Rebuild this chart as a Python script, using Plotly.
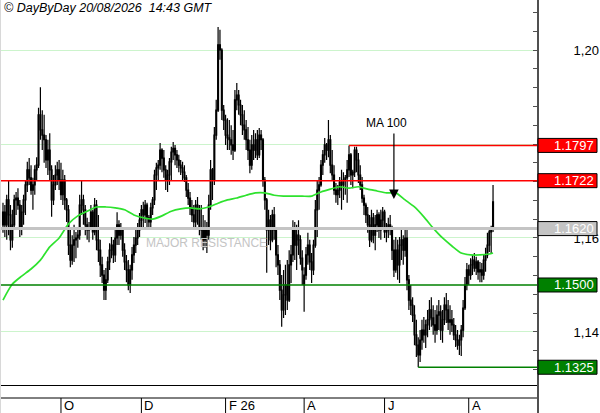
import pandas as pd
import plotly.graph_objects as go

# ---------------- data (daily candles) ----------------
opens = [
1.1628,1.1655,1.1628,1.1681,1.1649,1.1596,1.1628,1.1681,1.1685,1.1670,
1.1621,1.1655,1.1681,1.1713,1.1745,1.1728,1.1702,1.1713,1.1745,1.1755,
1.1862,1.1830,1.1819,1.1809,1.1766,1.1787,1.1745,1.1681,1.1713,1.1734,
1.1745,1.1723,1.1692,1.1723,1.1681,1.1660,1.1585,1.1553,1.1585,1.1596,
1.1600,1.1606,1.1670,1.1681,1.1660,1.1628,1.1617,1.1621,1.1655,1.1613,
1.1670,1.1596,1.1574,1.1543,1.1521,1.1489,1.1511,1.1549,1.1574,1.1585,
1.1564,1.1600,1.1628,1.1606,1.1617,1.1574,1.1549,1.1532,1.1500,1.1532,
1.1564,1.1585,1.1600,1.1617,1.1638,1.1660,1.1649,1.1670,1.1643,1.1634,
1.1664,1.1681,1.1734,1.1749,1.1755,1.1787,1.1770,1.1745,1.1723,1.1734,
1.1762,1.1783,1.1791,1.1777,1.1766,1.1755,1.1749,1.1740,1.1728,1.1702,
1.1685,1.1664,1.1649,1.1634,1.1670,1.1660,1.1621,1.1617,1.1596,1.1621,
1.1606,1.1670,1.1745,1.1723,1.1819,1.1872,1.2011,1.2000,1.1872,1.1851,
1.1819,1.1813,1.1809,1.1798,1.1787,1.1894,1.1904,1.1883,1.1862,1.1840,
1.1830,1.1809,1.1787,1.1755,1.1798,1.1787,1.1809,1.1777,1.1819,1.1809,
1.1723,1.1681,1.1617,1.1638,1.1596,1.1649,1.1617,1.1564,1.1543,1.1489,
1.1447,1.1479,1.1500,1.1468,1.1543,1.1564,1.1617,1.1585,1.1606,1.1596,
1.1557,1.1500,1.1521,1.1564,1.1585,1.1549,1.1532,1.1585,1.1660,1.1702,
1.1713,1.1755,1.1777,1.1798,1.1787,1.1809,1.1755,1.1734,1.1702,1.1692,
1.1702,1.1719,1.1713,1.1723,1.1728,1.1745,1.1777,1.1734,1.1740,1.1787,
1.1766,1.1734,1.1713,1.1685,1.1670,1.1649,1.1628,1.1596,1.1643,1.1606,
1.1628,1.1649,1.1617,1.1638,1.1655,1.1613,1.1617,1.1628,1.1621,1.1574,
1.1532,1.1574,1.1543,1.1585,1.1596,1.1574,1.1600,1.1511,1.1468,1.1457,
1.1436,1.1394,1.1372,1.1351,1.1383,1.1404,1.1394,1.1415,1.1426,1.1447,
1.1430,1.1415,1.1404,1.1436,1.1443,1.1404,1.1426,1.1457,1.1447,1.1421,
1.1426,1.1415,1.1394,1.1383,1.1372,1.1383,1.1404,1.1451,1.1500,1.1532,
1.1521,1.1543,1.1553,1.1536,1.1549,1.1528,1.1532,1.1521,1.1553,1.1564,
1.1585,1.1613,1.1621]

highs = [
1.1675,1.1670,1.1692,1.1723,1.1670,1.1660,1.1692,1.1698,1.1706,1.1681,
1.1670,1.1692,1.1723,1.1762,1.1770,1.1755,1.1728,1.1755,1.1772,1.1877,
1.1921,1.1872,1.1862,1.1819,1.1809,1.1823,1.1755,1.1734,1.1755,1.1762,
1.1766,1.1760,1.1745,1.1734,1.1685,1.1670,1.1617,1.1606,1.1628,1.1613,
1.1621,1.1692,1.1723,1.1692,1.1670,1.1643,1.1634,1.1670,1.1660,1.1685,
1.1681,1.1649,1.1596,1.1560,1.1532,1.1536,1.1560,1.1589,1.1602,1.1596,
1.1617,1.1655,1.1638,1.1632,1.1621,1.1589,1.1564,1.1553,1.1543,1.1581,
1.1602,1.1617,1.1632,1.1653,1.1670,1.1677,1.1681,1.1675,1.1649,1.1675,
1.1687,1.1745,1.1760,1.1766,1.1802,1.1791,1.1787,1.1755,1.1745,1.1770,
1.1794,1.1804,1.1798,1.1787,1.1777,1.1766,1.1762,1.1755,1.1734,1.1717,
1.1698,1.1681,1.1670,1.1681,1.1687,1.1670,1.1670,1.1649,1.1638,1.1634,
1.1692,1.1766,1.1749,1.1836,1.1894,1.2049,1.2043,1.2004,1.1883,1.1862,
1.1855,1.1851,1.1840,1.1830,1.1915,1.1930,1.1915,1.1894,1.1883,1.1872,
1.1851,1.1836,1.1809,1.1819,1.1830,1.1823,1.1830,1.1834,1.1830,1.1813,
1.1730,1.1685,1.1660,1.1649,1.1660,1.1666,1.1621,1.1585,1.1553,1.1521,
1.1532,1.1543,1.1553,1.1574,1.1585,1.1638,1.1634,1.1628,1.1638,1.1606,
1.1574,1.1538,1.1581,1.1611,1.1596,1.1568,1.1596,1.1681,1.1723,1.1730,
1.1766,1.1787,1.1813,1.1802,1.1851,1.1819,1.1787,1.1755,1.1717,1.1713,
1.1730,1.1745,1.1740,1.1734,1.1766,1.1797,1.1781,1.1745,1.1794,1.1794,
1.1781,1.1755,1.1730,1.1692,1.1675,1.1666,1.1649,1.1660,1.1653,1.1649,
1.1660,1.1655,1.1660,1.1666,1.1660,1.1632,1.1643,1.1649,1.1626,1.1596,
1.1602,1.1596,1.1602,1.1617,1.1606,1.1617,1.1617,1.1521,1.1500,1.1474,
1.1457,1.1426,1.1389,1.1404,1.1426,1.1432,1.1426,1.1447,1.1468,1.1474,
1.1457,1.1447,1.1457,1.1468,1.1457,1.1447,1.1474,1.1483,1.1468,1.1457,
1.1447,1.1430,1.1415,1.1404,1.1394,1.1415,1.1468,1.1517,1.1547,1.1543,
1.1557,1.1564,1.1568,1.1560,1.1553,1.1549,1.1547,1.1564,1.1579,1.1611,
1.1623,1.1626,1.1713]

lows = [
1.1611,1.1602,1.1596,1.1606,1.1574,1.1579,1.1617,1.1649,1.1660,1.1602,
1.1606,1.1628,1.1649,1.1698,1.1713,1.1692,1.1660,1.1692,1.1723,1.1749,
1.1809,1.1787,1.1760,1.1749,1.1734,1.1723,1.1645,1.1670,1.1702,1.1713,
1.1702,1.1681,1.1670,1.1660,1.1634,1.1564,1.1538,1.1543,1.1549,1.1557,
1.1579,1.1596,1.1649,1.1628,1.1606,1.1596,1.1591,1.1617,1.1596,1.1606,
1.1574,1.1549,1.1517,1.1504,1.1468,1.1468,1.1504,1.1532,1.1557,1.1547,
1.1549,1.1585,1.1585,1.1596,1.1560,1.1532,1.1506,1.1489,1.1483,1.1511,
1.1547,1.1568,1.1585,1.1602,1.1617,1.1623,1.1632,1.1623,1.1617,1.1621,
1.1649,1.1670,1.1702,1.1723,1.1745,1.1740,1.1728,1.1702,1.1698,1.1713,
1.1723,1.1766,1.1755,1.1749,1.1740,1.1734,1.1723,1.1719,1.1687,1.1670,
1.1649,1.1634,1.1617,1.1617,1.1628,1.1606,1.1596,1.1574,1.1579,1.1568,
1.1596,1.1660,1.1681,1.1713,1.1809,1.1868,1.1979,1.1851,1.1830,1.1798,
1.1787,1.1787,1.1777,1.1766,1.1783,1.1872,1.1862,1.1840,1.1819,1.1809,
1.1787,1.1766,1.1738,1.1745,1.1766,1.1770,1.1766,1.1770,1.1787,1.1709,
1.1660,1.1526,1.1585,1.1574,1.1591,1.1596,1.1538,1.1521,1.1468,1.1411,
1.1430,1.1436,1.1447,1.1464,1.1504,1.1549,1.1553,1.1532,1.1564,1.1543,
1.1500,1.1443,1.1511,1.1543,1.1532,1.1504,1.1521,1.1579,1.1602,1.1660,
1.1709,1.1734,1.1760,1.1766,1.1772,1.1738,1.1723,1.1692,1.1675,1.1670,
1.1685,1.1660,1.1681,1.1692,1.1675,1.1730,1.1713,1.1706,1.1730,1.1740,
1.1717,1.1702,1.1675,1.1649,1.1632,1.1611,1.1581,1.1591,1.1589,1.1574,
1.1613,1.1600,1.1596,1.1617,1.1600,1.1591,1.1600,1.1606,1.1553,1.1517,
1.1526,1.1511,1.1504,1.1553,1.1543,1.1560,1.1489,1.1447,1.1436,1.1421,
1.1372,1.1347,1.1325,1.1336,1.1362,1.1377,1.1366,1.1389,1.1404,1.1411,
1.1394,1.1377,1.1394,1.1404,1.1383,1.1377,1.1415,1.1419,1.1404,1.1394,
1.1400,1.1383,1.1368,1.1362,1.1351,1.1349,1.1389,1.1447,1.1489,1.1500,
1.1511,1.1521,1.1528,1.1521,1.1511,1.1506,1.1506,1.1511,1.1528,1.1557,
1.1570,1.1568,1.1613]

closes = [
1.1655,1.1628,1.1681,1.1649,1.1596,1.1628,1.1681,1.1685,1.1670,1.1621,
1.1655,1.1681,1.1713,1.1745,1.1728,1.1702,1.1713,1.1745,1.1755,1.1862,
1.1830,1.1819,1.1809,1.1766,1.1787,1.1745,1.1681,1.1713,1.1734,1.1745,
1.1723,1.1692,1.1723,1.1681,1.1660,1.1585,1.1553,1.1585,1.1596,1.1600,
1.1606,1.1670,1.1681,1.1660,1.1628,1.1617,1.1621,1.1655,1.1613,1.1670,
1.1596,1.1574,1.1543,1.1521,1.1489,1.1511,1.1549,1.1574,1.1585,1.1564,
1.1600,1.1628,1.1606,1.1617,1.1574,1.1549,1.1532,1.1500,1.1532,1.1564,
1.1585,1.1600,1.1617,1.1638,1.1660,1.1649,1.1670,1.1643,1.1634,1.1664,
1.1681,1.1734,1.1749,1.1755,1.1787,1.1770,1.1745,1.1723,1.1734,1.1762,
1.1783,1.1791,1.1777,1.1766,1.1755,1.1749,1.1740,1.1728,1.1702,1.1685,
1.1664,1.1649,1.1634,1.1670,1.1660,1.1621,1.1617,1.1596,1.1621,1.1606,
1.1670,1.1745,1.1723,1.1819,1.1872,1.2011,1.2000,1.1872,1.1851,1.1819,
1.1813,1.1809,1.1798,1.1787,1.1894,1.1904,1.1883,1.1862,1.1840,1.1830,
1.1809,1.1787,1.1755,1.1798,1.1787,1.1809,1.1777,1.1819,1.1809,1.1723,
1.1681,1.1617,1.1638,1.1596,1.1649,1.1617,1.1564,1.1543,1.1489,1.1447,
1.1479,1.1500,1.1468,1.1543,1.1564,1.1617,1.1585,1.1606,1.1596,1.1557,
1.1532,1.1521,1.1564,1.1585,1.1549,1.1532,1.1585,1.1660,1.1702,1.1713,
1.1755,1.1777,1.1798,1.1787,1.1809,1.1755,1.1734,1.1702,1.1692,1.1702,
1.1719,1.1713,1.1723,1.1728,1.1745,1.1777,1.1734,1.1740,1.1787,1.1766,
1.1734,1.1713,1.1685,1.1670,1.1649,1.1628,1.1596,1.1643,1.1606,1.1628,
1.1649,1.1617,1.1638,1.1655,1.1613,1.1617,1.1628,1.1621,1.1574,1.1532,
1.1574,1.1543,1.1585,1.1596,1.1574,1.1600,1.1511,1.1468,1.1457,1.1436,
1.1394,1.1372,1.1351,1.1383,1.1404,1.1394,1.1415,1.1426,1.1447,1.1430,
1.1415,1.1404,1.1436,1.1443,1.1404,1.1426,1.1457,1.1447,1.1421,1.1426,
1.1415,1.1394,1.1383,1.1372,1.1383,1.1404,1.1451,1.1500,1.1532,1.1521,
1.1543,1.1553,1.1536,1.1549,1.1528,1.1532,1.1521,1.1553,1.1564,1.1585,
1.1613,1.1621,1.1677]

last_date = "2026-08-20"
dates = pd.bdate_range(end=last_date, periods=len(closes))
bars = list(range(len(closes)))

# 100-day moving average, read at every 5th bar
ma_bars = [0, 5, 10, 15, 20, 25, 30, 35, 40, 45, 50, 55, 60, 65, 70, 75, 80, 85,
           90, 95, 100, 105, 110, 115, 120, 125, 130, 135, 140, 145, 150, 155,
           160, 165, 170, 175, 180, 185, 190, 195, 200, 205, 210, 215, 220, 225,
           230, 235, 240, 245, 250, 255, 260, 262]
ma100 = [1.1468, 1.1502, 1.1519, 1.1534, 1.1553, 1.1581, 1.1600, 1.1630, 1.1647,
         1.1657, 1.1666, 1.1666, 1.1664, 1.1660, 1.1649, 1.1643, 1.1640, 1.1647,
         1.1657, 1.1662, 1.1664, 1.1662, 1.1666, 1.1674, 1.1681, 1.1685, 1.1691,
         1.1696, 1.1696, 1.1691, 1.1689, 1.1689, 1.1689, 1.1689, 1.1698, 1.1704,
         1.1709, 1.1706, 1.1709, 1.1704, 1.1700, 1.1696, 1.1696, 1.1681, 1.1666,
         1.1645, 1.1621, 1.1600, 1.1583, 1.1568, 1.1564, 1.1564, 1.1566, 1.1568]

level_values = [1.1797, 1.1722, 1.1620, 1.1500, 1.1325]
level_labels = ["1.1797", "1.1722", "1.1620", "1.1500", "1.1325"]
level_colors = ["#ff0000", "#ff0000", "#c4c4c4", "#008000", "#008000"]
level_widths = [1.5, 1.5, 3, 1.3, 1.3]
level_start = ["high", None, None, None, "low"]

tick_months = ["2025-10-01", "2025-12-01", "2026-02-01", "2026-04-01", "2026-06-01", "2026-08-01"]
tick_texts = ["O", "D", "F 26", "A", "J", "A"]

y_tickvals = [1.14, 1.16, 1.18, 1.20]
y_ticktext = ["1,14", "1,16", "", "1,20"]

ma_arrow_bar = 209
ma_arrow_price = 1.1683
ma_text_bar = 205
ma_text_price = 1.1845
resist_text_bar = 109
resist_text_price = 1.1589

# ---------------- figure ----------------
FONT = "Liberation Sans, Arial, sans-serif"
W, H = 600, 413
ML, MR, MT, MB = 0, 63, 0, 28
PW = W - ML - MR
PH = H - MT - MB
Y_RANGE = [1.12872, 1.21064]
X_RANGE = [-1.6, 285.5]

fig = go.Figure()
fig.add_trace(go.Candlestick(
    x=bars, open=opens, high=highs, low=lows, close=closes,
    increasing=dict(line=dict(color="black", width=1.2), fillcolor="#8a8a8a"),
    decreasing=dict(line=dict(color="black", width=1.2), fillcolor="#111111"),
    whiskerwidth=0, showlegend=False, hoverinfo="skip"))
fig.add_trace(go.Scatter(
    x=ma_bars, y=ma100, mode="lines",
    line=dict(color="#2ee22e", width=1.7, shape="spline", smoothing=0.6),
    showlegend=False, hoverinfo="skip"))

shapes = []
annotations = []

def px_y(p):
    return -p / PH

# level lines + price boxes
for v, lab, col, lw, st in zip(level_values, level_labels, level_colors, level_widths, level_start):
    if st == "high":
        x0 = highs.index(v)
    elif st == "low":
        x0 = lows.index(v)
    else:
        x0 = None
    if x0 is None:
        shapes.append(dict(type="line", xref="paper", x0=0, x1=1, yref="y", y0=v, y1=v,
                           line=dict(color=col, width=lw), layer="above"))
    else:
        shapes.append(dict(type="line", xref="x", x0=x0, x1=X_RANGE[1], yref="y", y0=v, y1=v,
                           line=dict(color=col, width=lw), layer="above"))
    shapes.append(dict(type="rect", xref="paper", x0=1 + 1.0 / PW, x1=597.0 / PW,
                       yref="y", ysizemode="pixel", yanchor=v, y0=-7, y1=7,
                       fillcolor=col, line=dict(color="black", width=1), layer="above"))
    annotations.append(dict(text=lab, xref="paper", x=595.5 / PW, xanchor="right",
                            yref="y", y=v, yanchor="middle", showarrow=False,
                            font=dict(family=FONT, size=13, color="white")))

# bottom strip lines / axis extension / left border
shapes.append(dict(type="line", xref="paper", x0=0, x1=1, yref="paper",
                   y0=px_y(13), y1=px_y(13), line=dict(color="black", width=1)))
shapes.append(dict(type="line", xref="paper", x0=1 + 1.0 / PW, x1=1 + 1.0 / PW, yref="paper",
                   y0=px_y(28), y1=0, line=dict(color="#505050", width=2)))
shapes.append(dict(type="line", xref="paper", x0=0.5 / PW, x1=0.5 / PW, yref="paper",
                   y0=px_y(28), y1=1, line=dict(color="#d8d8d8", width=1)))

# month ticks and labels
for m, t in zip(tick_months, tick_texts):
    i = int((dates >= pd.Timestamp(m)).argmax())
    shapes.append(dict(type="line", xref="x", x0=i, x1=i, yref="paper",
                       y0=px_y(13), y1=px_y(28), line=dict(color="black", width=1)))
    annotations.append(dict(text=t, xref="x", x=i, xanchor="left", xshift=1,
                            yref="paper", y=px_y(21), yanchor="middle", showarrow=False,
                            font=dict(family=FONT, size=13, color="black")))

# header
annotations.append(dict(text="<i>© DayByDay 20/08/2026\u00a0 14:43 GMT</i>", xref="paper", x=2.0 / PW,
                        xanchor="left", yref="paper", y=1, yanchor="top", yshift=1,
                        showarrow=False, font=dict(family=FONT, size=12.5, color="black")))
# MA 100 annotation
annotations.append(dict(text="", x=ma_arrow_bar, y=ma_arrow_price, xref="x", yref="y",
                        showarrow=True, ax=0, ay=-67, axref="pixel", ayref="pixel",
                        arrowhead=2, arrowsize=1.6, arrowwidth=1.2, arrowcolor="black", standoff=0))
annotations.append(dict(text="MA 100", x=ma_text_bar, y=ma_text_price, xref="x", yref="y",
                        showarrow=False, font=dict(family=FONT, size=12, color="black")))
annotations.append(dict(text="MAJOR RESISTANCE", x=resist_text_bar, y=resist_text_price,
                        xref="x", yref="y", showarrow=False,
                        font=dict(family=FONT, size=12, color="#c4c4c4")))

fig.update_layout(
    width=W, height=H, margin=dict(l=ML, r=MR, t=MT, b=MB, pad=0),
    paper_bgcolor="white", plot_bgcolor="white",
    showlegend=False, shapes=shapes, annotations=annotations,
    font=dict(family=FONT, color="black"),
    xaxis=dict(range=X_RANGE, showgrid=False, zeroline=False, showticklabels=False,
               ticks="", showline=True, linecolor="black", linewidth=1,
               rangeslider=dict(visible=False), fixedrange=True),
    yaxis=dict(side="right", range=Y_RANGE, tickmode="array", tickvals=y_tickvals,
               ticktext=y_ticktext, showgrid=True, gridcolor="#ccf4cc", gridwidth=1,
               zeroline=False, showline=True, linecolor="#505050", linewidth=2,
               ticks="inside", ticklen=4, tickcolor="#505050", tickwidth=1,
               minor=dict(tickmode="linear", tick0=1.2, dtick=0.004, ticks="inside",
                          ticklen=4, tickcolor="#505050", showgrid=False),
               tickfont=dict(family=FONT, size=13, color="black"),
               ticklabelstandoff=32, fixedrange=True),
)

fig.write_html("out.html", config={"displayModeBar": False},
               post_script="document.body.style.margin='0';document.body.style.overflow='hidden';")
